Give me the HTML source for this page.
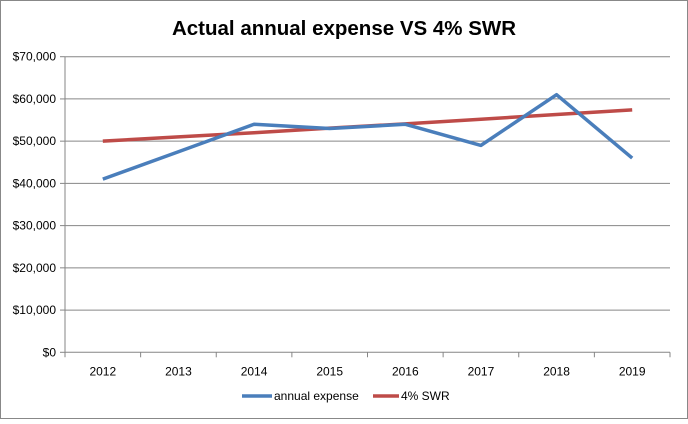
<!DOCTYPE html>
<html><head><meta charset="utf-8"><style>
body{margin:0;background:#fff;font-family:"Liberation Sans",sans-serif}
</style></head><body>
<svg width="688" height="419" xmlns="http://www.w3.org/2000/svg">
<rect x="0.5" y="0.5" width="687" height="418" fill="#fff" stroke="#888"/>
<text x="344" y="35" text-anchor="middle" font-size="20.5" font-weight="bold" fill="#000">Actual annual expense VS 4% SWR</text>
<g id="grid"></g><g id="axes"></g><g id="series"></g>
<g>
<line x1="242" y1="396" x2="272" y2="396" stroke="#4a7ebb" stroke-width="3.5"/>
<text x="274" y="400" font-size="12" fill="#000">annual expense</text>
<line x1="373" y1="396" x2="399" y2="396" stroke="#be4b48" stroke-width="3.5"/>
<text x="401" y="400" font-size="12" fill="#000">4% SWR</text>
</g>
</svg>
<script>
const categories=["2012","2013","2014","2015","2016","2017","2018","2019"];
const expense=[41000,47500,54000,53000,54000,49000,61000,46000];
const swr=[50000,51000,52000,53100,54100,55200,56300,57400];
const yTicks=[0,10000,20000,30000,40000,50000,60000,70000];
const yTickLabels=["$0","$10,000","$20,000","$30,000","$40,000","$50,000","$60,000","$70,000"];
const NS="http://www.w3.org/2000/svg";
const L=65,R=670,T=56.7,B=352.3,yMax=70000;
const bw=(R-L)/categories.length;
const xs=i=>L+bw*(i+0.5);
const ys=v=>B-(v/yMax)*(B-T);
function mk(t,a,p){const e=document.createElementNS(NS,t);for(const k in a)e.setAttribute(k,a[k]);p.appendChild(e);return e;}
const grid=document.getElementById('grid'),axes=document.getElementById('axes'),ser=document.getElementById('series');
yTicks.forEach((v,i)=>{
 if(v>0){const g=mk('line',{x1:L,x2:R,y1:ys(v),y2:ys(v),stroke:'#868686','stroke-width':1},grid);
 
 }
 const tk=mk('line',{x1:L-5,x2:L,y1:ys(v),y2:ys(v),stroke:'#868686'},axes);
 
 
 const t=mk('text',{x:L-9,y:ys(v)+4,'text-anchor':'end','font-size':12,fill:'#000'},axes);
 t.textContent=yTickLabels[i];
 
 
});
const ya=mk('line',{x1:L,x2:L,y1:T,y2:B,stroke:'#868686'},axes);


const xa=mk('line',{x1:L,x2:R,y1:B,y2:B,stroke:'#868686'},axes);


for(let i=0;i<=categories.length;i++){
 const tk=mk('line',{x1:L+bw*i,x2:L+bw*i,y1:B,y2:B+5,stroke:'#868686'},axes);
 
 
}
categories.forEach((c,i)=>{
 const t=mk('text',{x:xs(i),y:B+23,'text-anchor':'middle','font-size':12,fill:'#000'},axes);
 t.textContent=c;
 
 
});
function line(data,color,name){
 const p=mk('polyline',{points:data.map((v,i)=>xs(i)+','+ys(v)).join(' '),fill:'none',stroke:color,'stroke-width':3.5,'stroke-linejoin':'round'},ser);
 
 
}
line(swr,'#be4b48','swr-line');
line(expense,'#4a7ebb','annual-expense-line');
</script>
</body></html>
